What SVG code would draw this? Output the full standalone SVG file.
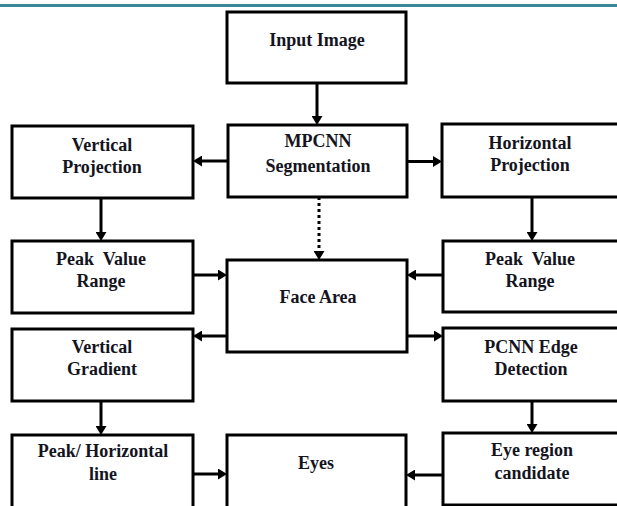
<svg xmlns="http://www.w3.org/2000/svg" width="617" height="506" viewBox="0 0 617 506">
<defs>
<marker id="ah" markerUnits="userSpaceOnUse" markerWidth="10" markerHeight="11" refX="3" refY="5.5" orient="auto">
<path d="M0,0 L9,5.5 L0,11 z" fill="#000"/>
</marker>
<style>
.box{fill:#fff;stroke:#000;stroke-width:3}
.t{font-family:"Liberation Serif","Times New Roman",serif;font-weight:bold;font-size:18px;fill:#14141e;text-anchor:middle;white-space:pre}
.c{stroke:#000;stroke-width:3;fill:none;marker-end:url(#ah)}
.d{stroke:#000;stroke-width:3;fill:none;stroke-dasharray:3 3;marker-end:url(#ah)}
</style>
</defs>
<rect x="0" y="0" width="617" height="506" fill="#fff"/>
<rect x="0" y="4" width="617" height="3" fill="#3a8797"/>
<g id="connectors">
<line class="c" x1="317" y1="83" x2="317" y2="119"/>
<line class="c" x1="228" y1="161" x2="199" y2="161"/>
<line class="c" x1="407" y1="161.5" x2="436" y2="161.5"/>
<line class="c" x1="101" y1="198" x2="101" y2="235"/>
<line class="c" x1="532" y1="197" x2="532" y2="235"/>
<line class="d" x1="319" y1="197" x2="319" y2="254"/>
<line class="c" x1="193" y1="275" x2="221" y2="275"/>
<line class="c" x1="443" y1="275" x2="413" y2="275"/>
<line class="c" x1="227" y1="336" x2="199" y2="336"/>
<line class="c" x1="407" y1="336" x2="437" y2="336"/>
<line class="c" x1="101" y1="401" x2="101" y2="429"/>
<line class="c" x1="532" y1="401" x2="532" y2="427"/>
<line class="c" x1="193" y1="474" x2="221" y2="474"/>
<line class="c" x1="443" y1="475" x2="412" y2="475"/>
</g>
<g id="input"><rect class="box" x="227" y="12" width="179" height="71"/><text class="t" x="317" y="46">Input Image</text></g>
<g id="mpcnn"><rect class="box" x="228" y="125" width="179" height="72"/><text class="t" x="318" y="147">MPCNN</text><text class="t" x="318" y="172">Segmentation</text></g>
<g id="vproj"><rect class="box" x="12" y="126" width="181" height="72"/><text class="t" x="102" y="151">Vertical</text><text class="t" x="102" y="173">Projection</text></g>
<g id="hproj"><rect class="box" x="442" y="124" width="185" height="73"/><text class="t" x="530" y="149">Horizontal</text><text class="t" x="530" y="171">Projection</text></g>
<g id="peakL"><rect class="box" x="12" y="241" width="181" height="72"/><text class="t" x="101" y="265" xml:space="preserve">Peak  Value</text><text class="t" x="101" y="287">Range</text></g>
<g id="face"><rect class="box" x="227" y="260" width="180" height="92"/><text class="t" x="318" y="303">Face Area</text></g>
<g id="peakR"><rect class="box" x="443" y="241" width="184" height="71"/><text class="t" x="530" y="265" xml:space="preserve">Peak  Value</text><text class="t" x="530" y="287">Range</text></g>
<g id="vgrad"><rect class="box" x="12" y="329" width="181" height="72"/><text class="t" x="102" y="353">Vertical</text><text class="t" x="102" y="375">Gradient</text></g>
<g id="pcnn"><rect class="box" x="443" y="328" width="184" height="73"/><text class="t" x="531" y="353">PCNN Edge</text><text class="t" x="531" y="375">Detection</text></g>
<g id="peakH"><rect class="box" x="12" y="435" width="181" height="80"/><text class="t" x="103" y="457">Peak/ Horizontal</text><text class="t" x="103" y="480">line</text></g>
<g id="eyes"><rect class="box" x="227" y="435" width="179" height="80"/><text class="t" x="316" y="469">Eyes</text></g>
<g id="eyereg"><rect class="box" x="443" y="433" width="184" height="72"/><text class="t" x="532" y="456">Eye region</text><text class="t" x="532" y="479">candidate</text></g>
</svg>
